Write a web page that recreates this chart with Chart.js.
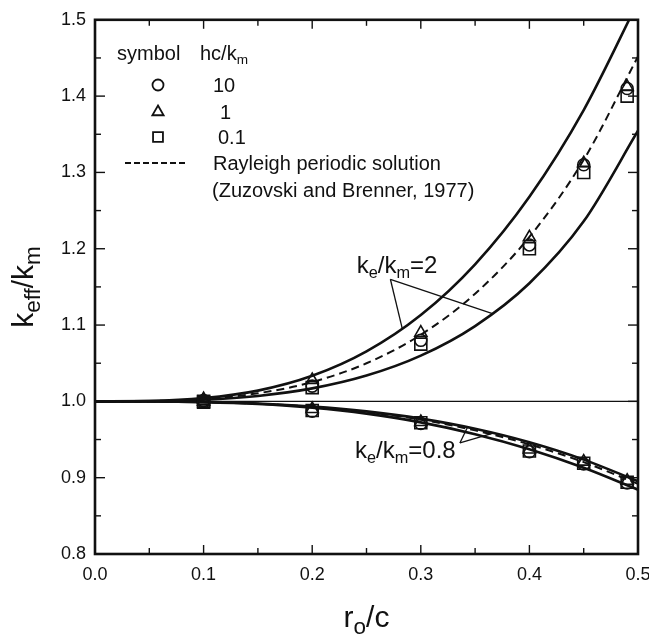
<!DOCTYPE html>
<html>
<head>
<meta charset="utf-8">
<script src="https://cdn.jsdelivr.net/npm/chart.js@4.4.1/dist/chart.umd.min.js"></script>
<style>
  html, body { margin: 0; padding: 0; background: #fff; }
  #wrap { width: 649px; height: 636px; }
</style>
</head>
<body>
<div id="wrap"><canvas id="chart" width="649" height="636"></canvas></div>
<script>
const curveX = [0, 0.05, 0.1, 0.15, 0.2, 0.25, 0.3, 0.35, 0.4, 0.45, 0.5];

// k_e/k_m = 2 : upper solid, lower solid, dashed (Rayleigh)
const upper2  = [1, 1.0005, 1.0042, 1.0141, 1.0335, 1.0655, 1.1131, 1.1796, 1.2681, 1.3817, 1.5236];
const lower2  = [1, 1.0003, 1.0021, 1.0071, 1.0170, 1.0338, 1.0599, 1.0987, 1.1548, 1.2359, 1.3546];
const rayl2   = [1, 1.0004, 1.0031, 1.0106, 1.0253, 1.0499, 1.0873, 1.1410, 1.2155, 1.3165, 1.4520];

// k_e/k_m = 0.8
const upper08 = [1, 0.9999, 0.9992, 0.9972, 0.9933, 0.9869, 0.9774, 0.9641, 0.9464, 0.9237, 0.8953];
const lower08 = [1, 0.9999, 0.9990, 0.9965, 0.9917, 0.9839, 0.9725, 0.9570, 0.9372, 0.9129, 0.8842];
const rayl08  = [1, 0.9999, 0.9991, 0.9970, 0.9928, 0.9860, 0.9760, 0.9620, 0.9436, 0.9204, 0.8918];

// symbols: hc/k_m = 10 (circle), 1 (triangle), 0.1 (square)
const pointX  = [0.1, 0.2, 0.3, 0.4, 0.45, 0.49];
const circ2   = [1.001, 1.020, 1.080, 1.205, 1.310, 1.410];
const tri2    = [1.003, 1.028, 1.090, 1.215, 1.312, 1.412];
const sq2     = [1.000, 1.018, 1.075, 1.200, 1.300, 1.400];
const circ08  = [0.999, 0.987, 0.971, 0.934, 0.918, 0.893];
const tri08   = [1.000, 0.990, 0.973, 0.937, 0.921, 0.896];
const sq08    = [0.999, 0.988, 0.972, 0.935, 0.919, 0.894];

const xTicks = [0, 0.1, 0.2, 0.3, 0.4, 0.5];
const yTicks = [0.8, 0.9, 1.0, 1.1, 1.2, 1.3, 1.4, 1.5];

const INK = '#111';
const FONT = '"Liberation Sans", Arial, Helvetica, sans-serif';

const pts = (xs, ys) => xs.map((x, i) => ({ x: x, y: ys[i] }));

function curve(ys, dashed) {
  return {
    data: pts(curveX, ys),
    showLine: true,
    borderColor: INK,
    borderWidth: dashed ? 2 : 2.6,
    borderDash: dashed ? [8, 5] : [],
    pointRadius: 0,
    cubicInterpolationMode: 'monotone'
  };
}

function marks(ys1, ys2, style, r) {
  return {
    data: pts(pointX, ys1).concat(pts(pointX, ys2)),
    showLine: false,
    pointStyle: style,
    pointRadius: r,
    pointBorderWidth: 1.6,
    pointBorderColor: INK,
    pointBackgroundColor: 'rgba(0,0,0,0)'
  };
}

// text with subscripts: parts = [[text, isSub], ...]
function richWidth(ctx, parts, size, k) {
  let w = 0;
  parts.forEach(p => {
    ctx.font = (p[1] ? size * k : size) + 'px ' + FONT;
    w += ctx.measureText(p[0]).width;
  });
  return w;
}
function drawRich(ctx, parts, x, y, size, align, k) {
  k = k || 0.68;
  const w = richWidth(ctx, parts, size, k);
  let cx = align === 'center' ? x - w / 2 : x;
  ctx.textAlign = 'left';
  ctx.textBaseline = 'alphabetic';
  parts.forEach(p => {
    ctx.font = (p[1] ? size * k : size) + 'px ' + FONT;
    ctx.fillText(p[0], cx, p[1] ? y + size * 0.22 : y);
    cx += ctx.measureText(p[0]).width;
  });
}

const decor = {
  id: 'decor',
  afterDatasetsDraw(chart) {
    const ctx = chart.ctx;
    const { left, right, top, bottom } = chart.chartArea;
    const xs = chart.scales.x, ys = chart.scales.y;
    const line = (a, b, c, d) => { ctx.beginPath(); ctx.moveTo(a, b); ctx.lineTo(c, d); ctx.stroke(); };
    ctx.save();
    ctx.strokeStyle = INK;
    ctx.fillStyle = INK;

    // frame
    ctx.lineWidth = 2.6;
    ctx.strokeRect(left, top, right - left, bottom - top);

    // inward ticks, major and minor
    ctx.lineWidth = 1.4;
    for (let i = 0; i <= 10; i++) {
      const px = xs.getPixelForValue(i * 0.05);
      const len = i % 2 === 0 ? 9 : 6;
      line(px, bottom, px, bottom - len);
      line(px, top, px, top + len);
    }
    for (let i = 0; i <= 14; i++) {
      const py = ys.getPixelForValue(0.8 + i * 0.05);
      const len = i % 2 === 0 ? 10 : 6;
      line(left, py, left + len, py);
      line(right, py, right - len, py);
    }

    // axis titles
    drawRich(ctx, [['r', 0], ['o', 1], ['/c', 0]], (left + right) / 2, 627, 30, 'center', 0.75);
    ctx.save();
    ctx.translate(33, 287);
    ctx.rotate(-Math.PI / 2);
    drawRich(ctx, [['k', 0], ['eff', 1], ['/k', 0], ['m', 1]], 0, 0, 30, 'center', 0.75);
    ctx.restore();

    // legend
    const symX = left + 63, txtX = left + 118;
    drawRich(ctx, [['symbol', 0]], left + 22, 60, 20, 'left');
    drawRich(ctx, [['hc/k', 0], ['m', 1]], left + 105, 60, 20, 'left');
    const legendRows = [['circle', 5.5, '10', 85], ['triangle', 6.5, '1', 112], ['rect', 7, '0.1', 137]];
    legendRows.forEach((r, i) => {
      ctx.fillStyle = 'rgba(0,0,0,0)';
      ctx.lineWidth = 1.8;
      Chart.helpers.drawPoint(ctx, { pointStyle: r[0], radius: r[1], borderWidth: 1.8 }, symX, r[3]);
      ctx.fillStyle = INK;
      drawRich(ctx, [[r[2], 0]], txtX + [0, 7, 5][i], r[3] + 7, 20, 'left');
    });
    ctx.lineWidth = 2;
    ctx.setLineDash([6, 3]);
    line(left + 30, 163, left + 92, 163);
    ctx.setLineDash([]);
    drawRich(ctx, [['Rayleigh periodic solution', 0]], txtX, 170, 20, 'left');
    drawRich(ctx, [['(Zuzovski and Brenner, 1977)', 0]], txtX - 1, 197, 20, 'left');

    // curve labels with leader lines (data coordinates)
    const P = (x, y) => [xs.getPixelForValue(x), ys.getPixelForValue(y)];
    ctx.lineWidth = 1.3;
    let a = P(0.272, 1.160), e1 = P(0.283, 1.095), e2 = P(0.366, 1.115);
    line(a[0], a[1], e1[0], e1[1]);
    line(a[0], a[1], e2[0], e2[1]);
    let t = P(0.241, 1.168);
    drawRich(ctx, [['k', 0], ['e', 1], ['/k', 0], ['m', 1], ['=2', 0]], t[0], t[1], 24, 'left');

    a = P(0.336, 0.9455); e1 = P(0.343, 0.966); e2 = P(0.366, 0.958);
    line(a[0], a[1], e1[0], e1[1]);
    line(a[0], a[1], e2[0], e2[1]);
    t = P(0.2394, 0.926);
    drawRich(ctx, [['k', 0], ['e', 1], ['/k', 0], ['m', 1], ['=0.8', 0]], t[0], t[1], 24, 'left');

    ctx.restore();
  }
};

new Chart(document.getElementById('chart'), {
  type: 'scatter',
  data: {
    datasets: [
      marks(circ2, circ08, 'circle', 6),
      marks(tri2, tri08, 'triangle', 7),
      marks(sq2, sq08, 'rect', 8.5),
      curve(upper2), curve(lower2), curve(rayl2, true),
      curve(upper08), curve(lower08), curve(rayl08, true),
      {
        data: [{ x: 0, y: 1 }, { x: 0.5, y: 1 }],
        showLine: true, borderColor: INK, borderWidth: 1.3, pointRadius: 0
      }
    ]
  },
  options: {
    responsive: false,
    animation: false,
    devicePixelRatio: 1,
    layout: { padding: { top: 15, right: 11, left: 0, bottom: 0 } },
    plugins: { legend: { display: false }, tooltip: { enabled: false } },
    scales: {
      x: {
        type: 'linear', min: 0, max: 0.5,
        afterBuildTicks: s => { s.ticks = xTicks.map(v => ({ value: v })); },
        afterFit: s => { s.height = 82; s.paddingLeft = 0; s.paddingRight = 0; },
        grid: { display: false, drawTicks: false },
        border: { display: false },
        ticks: { padding: 10, color: INK, font: { family: FONT, size: 18 }, callback: v => v.toFixed(1), maxRotation: 0 }
      },
      y: {
        type: 'linear', min: 0.8, max: 1.5,
        afterBuildTicks: s => { s.ticks = yTicks.map(v => ({ value: v })); },
        afterFit: s => { s.width = 95; },
        grid: { display: false, drawTicks: false },
        border: { display: false },
        ticks: { padding: 9, color: INK, font: { family: FONT, size: 18 }, callback: v => v.toFixed(1) }
      }
    }
  },
  plugins: [decor]
});
</script>
</body>
</html>
